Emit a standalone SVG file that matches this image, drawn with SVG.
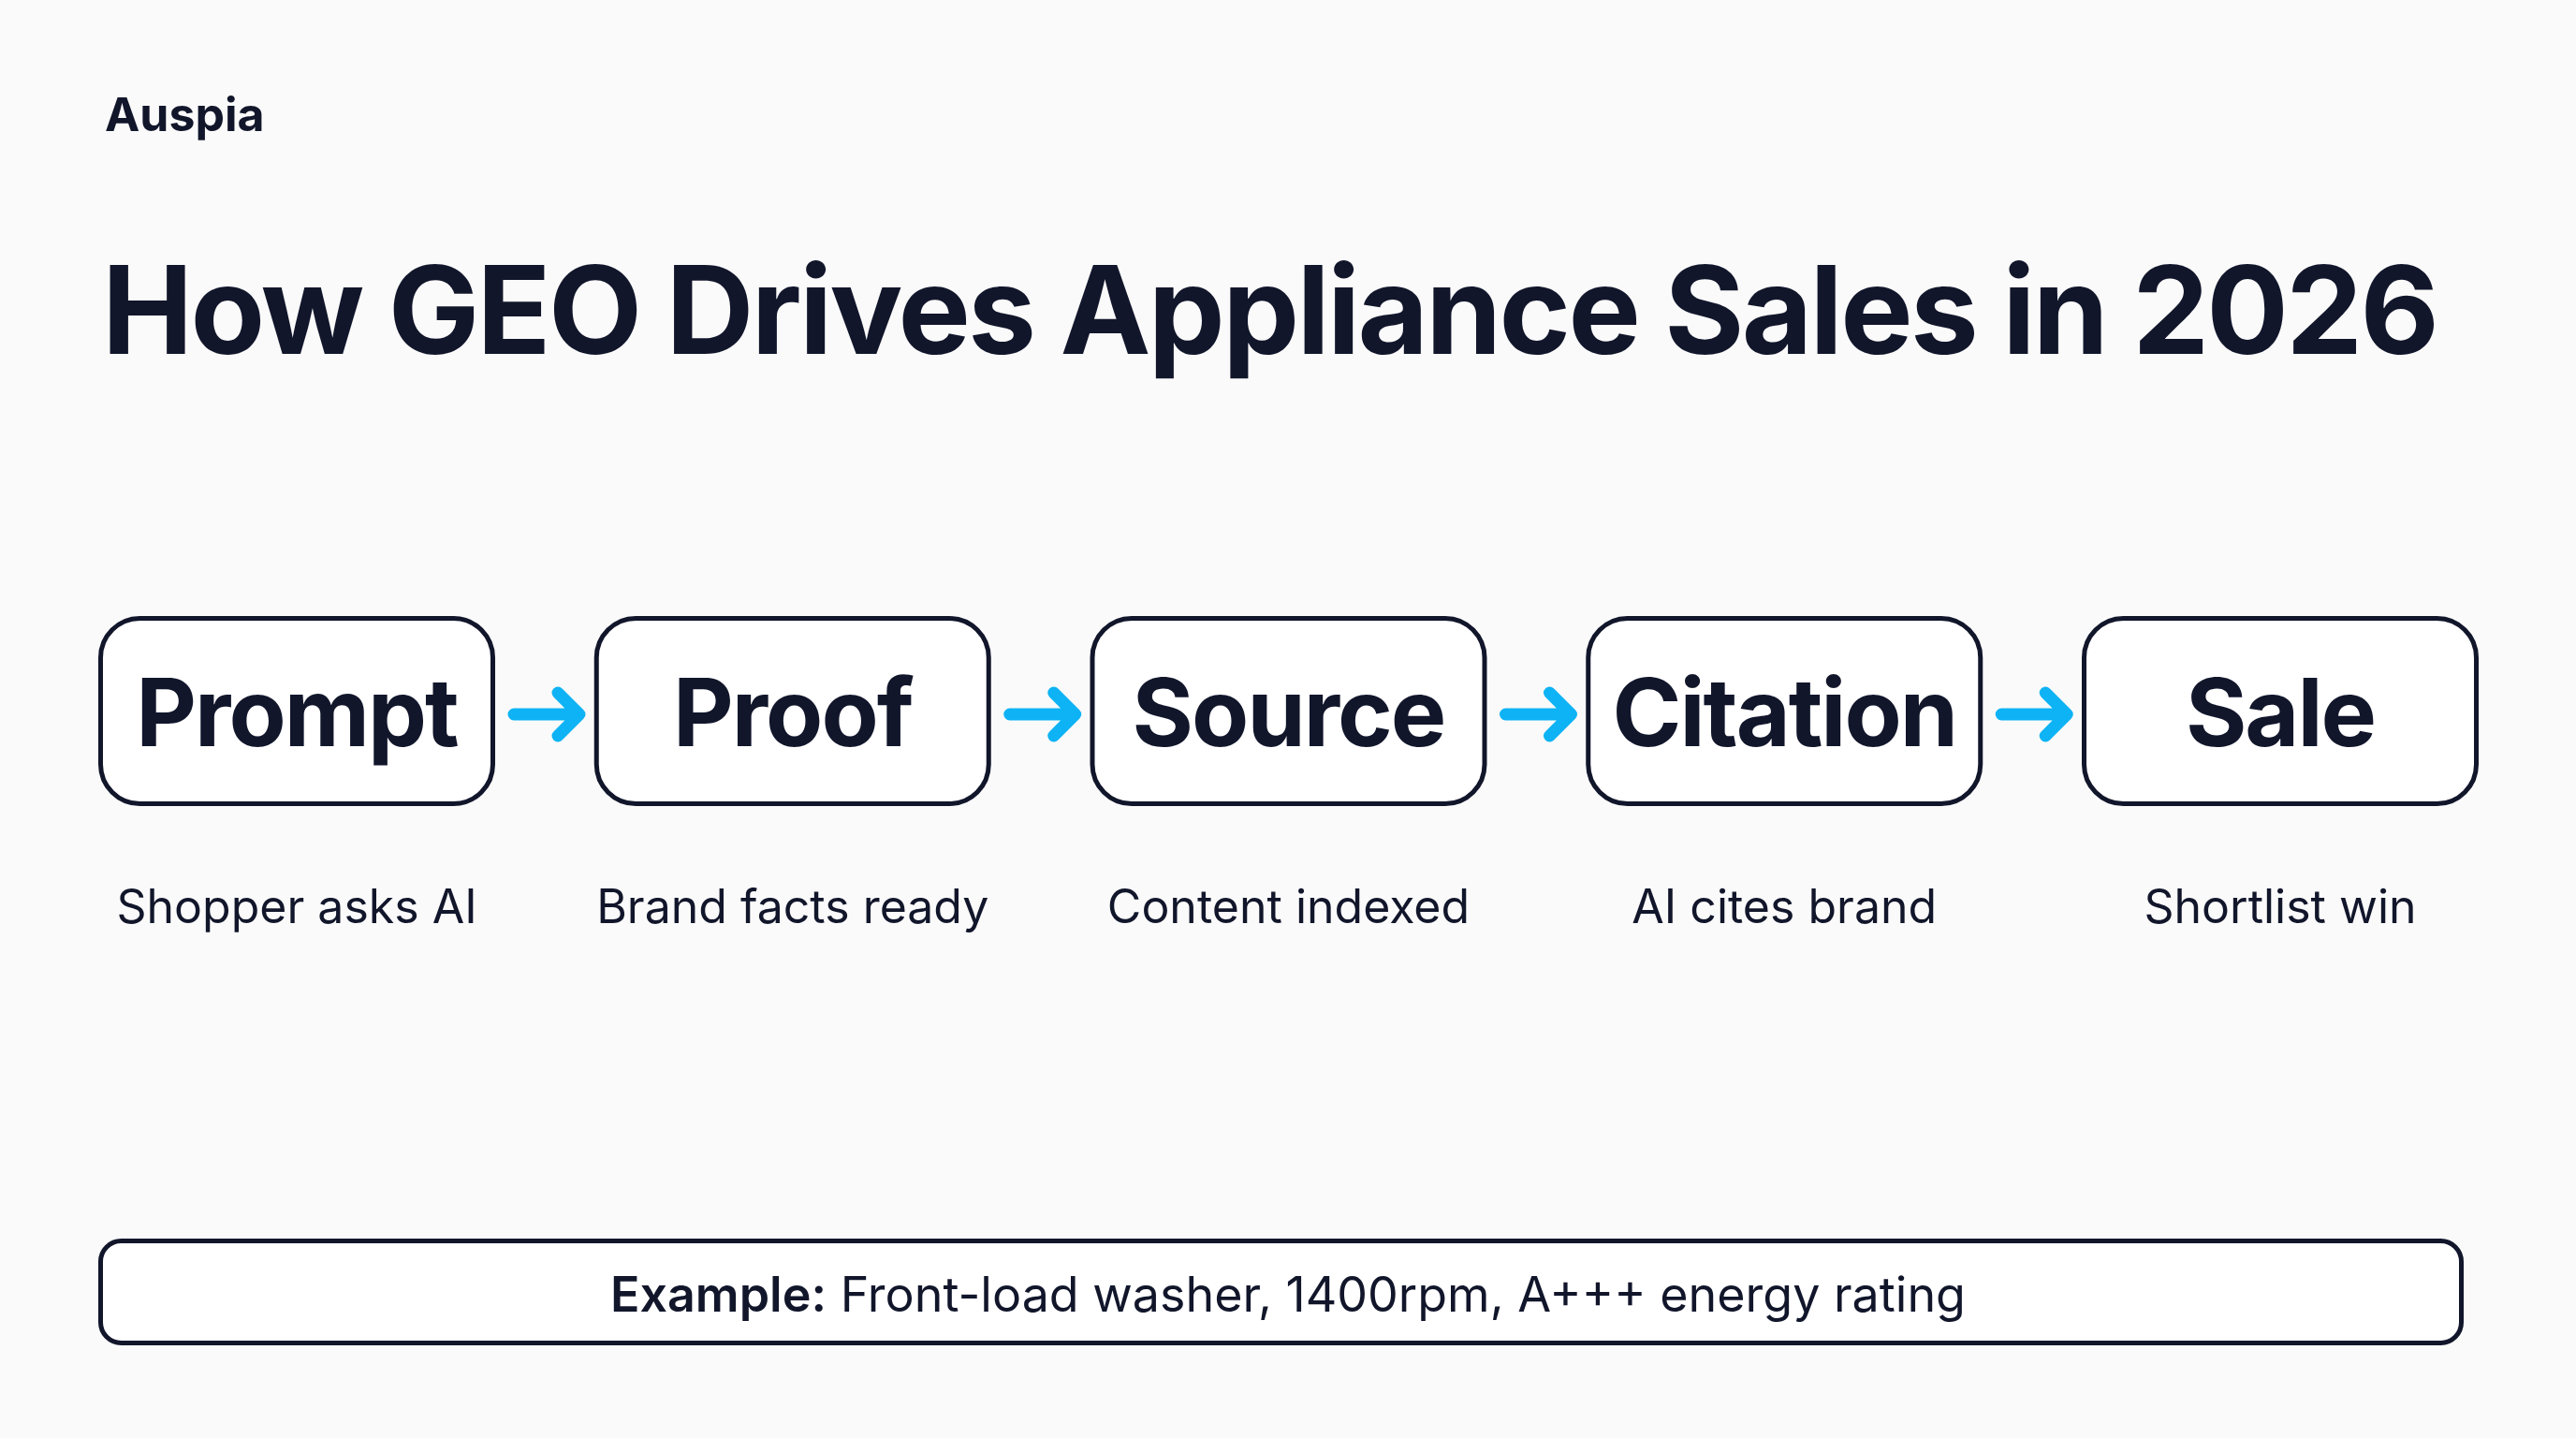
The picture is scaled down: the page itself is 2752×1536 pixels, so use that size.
<svg xmlns="http://www.w3.org/2000/svg" width="2752" height="1536" viewBox="0 0 2752 1536">
  <defs>
    <style>
      .ink { fill: #12162b; font-family: Inter, "Noto Sans", "Liberation Sans", sans-serif; }
      .brand { font-size: 50px; font-weight: 700; }
      .title { font-size: 130px; font-weight: 700; }
      .node rect { fill: #ffffff; stroke: #12162b; stroke-width: 5; }
      .label { font-size: 100px; font-weight: 700; letter-spacing: -2px; text-anchor: middle; }
      .sub { font-size: 50px; font-weight: 400; text-anchor: middle; }
      .arrow { fill: none; stroke: #0db3f4; stroke-width: 13; stroke-linecap: round; stroke-linejoin: round; }
      .example rect { fill: #ffffff; stroke: #12162b; stroke-width: 5; }
      .ex { font-size: 52px; font-weight: 400; text-anchor: middle; }
    </style>
  </defs>
  <rect width="2752" height="1536" fill="#fafafa"/>

  <text id="brand" class="ink brand" x="112" y="140">Auspia</text>
  <text id="title" class="ink title" x="109" y="378" textLength="2497">How GEO Drives Appliance Sales in 2026</text>

  <g id="node-prompt" class="node">
    <rect x="107.5" y="660.5" width="419" height="198" rx="42"/>
    <text class="ink label" x="317" y="797">Prompt</text>
    <text class="ink sub" x="317" y="986">Shopper asks AI</text>
  </g>
  <g id="node-proof" class="node">
    <rect x="637.25" y="660.5" width="419" height="198" rx="42"/>
    <text class="ink label" x="846.75" y="797">Proof</text>
    <text class="ink sub" x="846.75" y="986">Brand facts ready</text>
  </g>
  <g id="node-source" class="node">
    <rect x="1167" y="660.5" width="419" height="198" rx="42"/>
    <text class="ink label" x="1376.5" y="797">Source</text>
    <text class="ink sub" x="1376.5" y="986">Content indexed</text>
  </g>
  <g id="node-citation" class="node">
    <rect x="1696.75" y="660.5" width="419" height="198" rx="42"/>
    <text class="ink label" x="1906.25" y="797">Citation</text>
    <text class="ink sub" x="1906.25" y="986">AI cites brand</text>
  </g>
  <g id="node-sale" class="node">
    <rect x="2226.5" y="660.5" width="419" height="198" rx="42"/>
    <text class="ink label" x="2436" y="797">Sale</text>
    <text class="ink sub" x="2436" y="986">Shortlist win</text>
  </g>

  <g id="connectors">
    <path class="arrow" d="M549 763 H619 M596 740 L619 763 L596 786"/>
    <path class="arrow" d="M1078.75 763 H1148.75 M1125.75 740 L1148.75 763 L1125.75 786"/>
    <path class="arrow" d="M1608.5 763 H1678.5 M1655.5 740 L1678.5 763 L1655.5 786"/>
    <path class="arrow" d="M2138.25 763 H2208.25 M2185.25 740 L2208.25 763 L2185.25 786"/>
  </g>

  <g id="example" class="example">
    <rect x="107.5" y="1325.5" width="2522" height="109" rx="22"/>
    <text class="ink ex" x="1376" y="1401"><tspan font-weight="600">Example:</tspan> Front-load washer, 1400rpm, A+++ energy rating</text>
  </g>
</svg>
